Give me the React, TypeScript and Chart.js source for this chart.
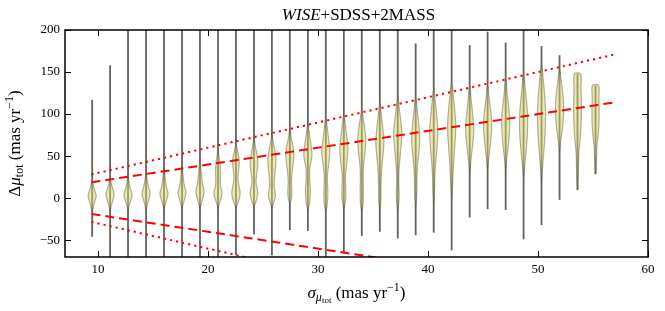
import React, { useEffect, useRef } from 'react';
import { Chart, registerables } from 'chart.js';

Chart.register(...registerables);

// ---- data ----
const positions = [
  9.47, 11.10, 12.73, 14.37, 16.00, 17.64, 19.27, 20.91, 22.54, 24.18,
  25.81, 27.44, 29.08, 30.71, 32.35, 33.98, 35.62, 37.25, 38.88, 40.52,
  42.15, 43.79, 45.42, 47.06, 48.69, 50.32, 51.96, 53.59, 55.23,
];
const whiskerMin = [
  -46, -90, -90, -90, -90, -90, -90, -90, -68, -43,
  -68, -38, -39, -90, -66, -45, -40, -48, -44, -41,
  -62, -23, -13, -14, -49, -32, -2, 9.5, 28.5,
];
const whiskerMax = [
  117, 158, 250, 250, 250, 250, 250, 250, 250, 250,
  250, 250, 250, 250, 250, 250, 250, 250, 184, 250,
  250, 182, 198, 185, 250, 181, 170, 147.6, 134,
];
// density profiles: [value, relative width]
const profiles: number[][][] = [
  [[-16, 0], [-10, 0.3], [-4, 0.65], [3, 1], [9, 0.65], [15, 0.3], [21, 0]],
  [[-15, 0], [-9, 0.3], [-2, 0.7], [5, 1], [11, 0.65], [17, 0.3], [24, 0]],
  [[-15, 0], [-9, 0.3], [-2, 0.7], [4, 1], [11, 0.6], [18, 0.3], [26, 0]],
  [[-14, 0], [-8, 0.3], [-1, 0.7], [6, 1], [13, 0.6], [21, 0.3], [30, 0]],
  [[-13, 0], [-7, 0.35], [0, 0.75], [6, 1], [13, 0.6], [21, 0.35], [28, 0.2], [36, 0]],
  [[-12, 0], [-6, 0.35], [1, 0.75], [7, 1], [14, 0.6], [22, 0.35], [30, 0.2], [38, 0]],
  [[-12, 0], [-6, 0.35], [2, 0.8], [9, 1], [17, 0.6], [24, 0.45], [32, 0.3], [42, 0]],
  [[-12, 0], [-6, 0.35], [1, 0.8], [6, 1], [14, 0.65], [22, 0.55], [32, 0.6], [42, 0.5], [50, 0.25], [58, 0]],
  [[-12, 0], [-6, 0.45], [2, 0.95], [8, 1], [16, 0.7], [25, 0.5], [35, 0.7], [45, 0.8], [55, 0.45], [64, 0]],
  [[-10, 0], [-4, 0.5], [4, 0.9], [10, 0.85], [19, 0.5], [30, 0.7], [41, 0.95], [50, 0.8], [60, 0.4], [71, 0]],
  [[-11, 0], [-5, 0.45], [2, 0.85], [8, 0.8], [14, 0.55], [25, 0.65], [37, 0.9], [46, 1], [56, 0.75], [65, 0.4], [74, 0]],
  [[-7, 0], [0, 0.4], [8, 0.5], [18, 0.4], [28, 0.5], [40, 0.8], [52, 1], [60, 0.85], [70, 0.4], [80, 0]],
  [[-14, 0], [-7, 0.4], [3, 0.55], [11, 0.6], [22, 0.45], [35, 0.45], [44, 0.8], [52, 1], [62, 0.8], [74, 0.45], [87, 0]],
  [[-16, 0], [-8, 0.35], [4, 0.5], [14, 0.45], [27, 0.4], [40, 0.7], [55, 1], [68, 0.75], [82, 0.4], [95, 0]],
  [[-12, 0], [-5, 0.35], [4, 0.5], [14, 0.45], [27, 0.4], [42, 0.75], [59, 1], [72, 0.75], [86, 0.4], [99, 0]],
  [[-16, 0], [-8, 0.3], [4, 0.4], [14, 0.4], [25, 0.35], [39, 0.45], [55, 0.8], [70, 1], [82, 0.75], [94, 0.4], [103, 0]],
  [[-12, 0], [-4, 0.25], [10, 0.3], [25, 0.35], [40, 0.55], [55, 0.85], [68, 1], [80, 0.8], [95, 0.45], [113, 0]],
  [[-14, 0], [-6, 0.25], [5, 0.35], [18, 0.25], [32, 0.3], [48, 0.55], [63, 0.85], [77, 1], [90, 0.8], [105, 0.4], [121, 0]],
  [[-10, 0], [5, 0.25], [22, 0.3], [38, 0.45], [55, 0.8], [72, 1], [86, 0.8], [102, 0.45], [119, 0]],
  [[-5, 0], [10, 0.2], [28, 0.3], [45, 0.55], [63, 0.85], [80, 1], [95, 0.8], [112, 0.45], [129, 0]],
  [[0, 0], [20, 0.25], [40, 0.45], [58, 0.7], [75, 0.95], [87, 1], [100, 0.85], [118, 0.5], [138, 0]],
  [[30, 0], [45, 0.3], [60, 0.65], [75, 0.95], [85, 1], [97, 0.8], [115, 0.4], [133, 0]],
  [[35, 0], [50, 0.35], [65, 0.7], [80, 0.95], [90, 1], [102, 0.8], [118, 0.4], [134, 0]],
  [[35, 0], [50, 0.35], [67, 0.75], [82, 0.95], [93, 1], [106, 0.8], [123, 0.4], [142, 0]],
  [[25, 0], [42, 0.35], [60, 0.7], [78, 0.95], [93, 1], [108, 0.85], [128, 0.45], [148, 0]],
  [[20, 0], [40, 0.3], [60, 0.65], [80, 0.9], [100, 1], [118, 0.85], [140, 0.45], [160, 0]],
  [[55, 0], [68, 0.3], [82, 0.7], [97, 0.95], [110, 1], [125, 0.8], [140, 0.4], [153, 0]],
  [[10, 0], [30, 0.2], [55, 0.35], [70, 0.65], [85, 0.85], [100, 0.95], [115, 0.95], [130, 0.85], [147.6, 0.75]],
  [[29, 0], [45, 0.2], [62, 0.35], [75, 0.65], [90, 0.85], [105, 0.88], [120, 0.82], [134, 0.75]],
];

const lineX = [9.4, 57];
const upperDashed = [18.8, 114];
const lowerDashed = [-18.8, -114];
const upperDotted = [28.2, 171];
const lowerDotted = [-28.2, -171];

const xTicks = [10, 20, 30, 40, 50, 60];
const yTicks = [-50, 0, 50, 100, 150, 200];

// ---- style ----
const HALF_W = 0.37;
const FONT = '"Liberation Serif", "Times New Roman", serif';

type Part = { t: string; size: number; italic?: boolean; dy?: number };

function drawRich(ctx: CanvasRenderingContext2D, parts: Part[], cx: number, cy: number, rot: number) {
  ctx.save();
  ctx.translate(cx, cy);
  ctx.rotate(rot);
  const fonts = parts.map((p) => `${p.italic ? 'italic ' : ''}${p.size}px ${FONT}`);
  let total = 0;
  parts.forEach((p, i) => {
    ctx.font = fonts[i];
    total += ctx.measureText(p.t).width;
  });
  let x = -total / 2;
  ctx.textAlign = 'left';
  ctx.textBaseline = 'alphabetic';
  ctx.fillStyle = '#000';
  parts.forEach((p, i) => {
    ctx.font = fonts[i];
    ctx.fillText(p.t, x, p.dy || 0);
    x += ctx.measureText(p.t).width;
  });
  ctx.restore();
}

const decor = {
  id: 'decor',
  afterDraw(chart: any) {
    const { ctx, chartArea: a, scales } = chart;
    const x = scales.x;
    const y = scales.y;
    ctx.save();
    ctx.strokeStyle = '#000';
    ctx.lineWidth = 1;
    const tl = 6;
    ctx.beginPath();
    for (const v of xTicks) {
      const px = Math.round(x.getPixelForValue(v)) + 0.5;
      ctx.moveTo(px, a.bottom);
      ctx.lineTo(px, a.bottom - tl);
      ctx.moveTo(px, a.top);
      ctx.lineTo(px, a.top + tl);
    }
    for (const v of yTicks) {
      const py = Math.round(y.getPixelForValue(v)) + 0.5;
      ctx.moveTo(a.left, py);
      ctx.lineTo(a.left + tl, py);
      ctx.moveTo(a.right, py);
      ctx.lineTo(a.right - tl, py);
    }
    ctx.stroke();
    ctx.lineWidth = 1.5;
    ctx.strokeRect(a.left, a.top, a.right - a.left, a.bottom - a.top);
    ctx.restore();

    const cx = (a.left + a.right) / 2;
    const cy = (a.top + a.bottom) / 2;
    drawRich(ctx, [
      { t: 'WISE', size: 17, italic: true },
      { t: '+SDSS+2MASS', size: 17 },
    ], cx + 2, 20, 0);
    drawRich(ctx, [
      { t: 'σ', size: 17, italic: true },
      { t: 'μ', size: 12, italic: true, dy: 3 },
      { t: 'tot', size: 9, dy: 5 },
      { t: ' (mas yr', size: 17 },
      { t: '−1', size: 12, dy: -7 },
      { t: ')', size: 17 },
    ], cx, 298, 0);
    drawRich(ctx, [
      { t: 'Δ', size: 17 },
      { t: 'μ', size: 17, italic: true },
      { t: 'tot', size: 12, dy: 3 },
      { t: ' (mas yr', size: 17 },
      { t: '−1', size: 12, dy: -7 },
      { t: ')', size: 17 },
    ], 20, cy, -Math.PI / 2);
  },
};

function buildDatasets() {
  const ds: any[] = [];
  const redLine = (ys: number[], dash: number[]) => ({
    data: [{ x: lineX[0], y: ys[0] }, { x: lineX[1], y: ys[1] }],
    showLine: true,
    borderColor: '#ff0000',
    borderWidth: 2,
    borderDash: dash,
    pointRadius: 0,
    fill: false,
  });
  ds.push(redLine(upperDashed, [9, 5]));
  ds.push(redLine(lowerDashed, [9, 5]));
  ds.push(redLine(upperDotted, [2.2, 4]));
  ds.push(redLine(lowerDotted, [2.2, 4]));

  profiles.forEach((prof, i) => {
    const pos = positions[i];
    const right = prof.map(([v, w]) => ({ x: pos + HALF_W * w, y: v }));
    const left = prof.slice().reverse().map(([v, w]) => ({ x: pos - HALF_W * w, y: v }));
    const topR = right[right.length - 1];
    if (left[0].x === topR.x && left[0].y === topR.y) left.shift();
    ds.push({
      data: [...right, ...left],
      showLine: true,
      fill: 'shape',
      backgroundColor: 'rgba(215, 212, 100, 0.5)',
      borderColor: 'rgba(70, 70, 50, 0.4)',
      borderWidth: 1.2,
      pointRadius: 0,
      tension: 0.35,
    });
  });

  positions.forEach((pos, i) => {
    ds.push({
      data: [{ x: pos, y: whiskerMin[i] }, { x: pos, y: whiskerMax[i] }],
      showLine: true,
      borderColor: 'rgba(60, 60, 50, 0.8)',
      borderWidth: 1.8,
      pointRadius: 0,
      fill: false,
    });
  });
  return ds;
}

export default function App() {
  const ref = useRef<HTMLCanvasElement | null>(null);
  useEffect(() => {
    if (!ref.current) return;
    const tickFont = { family: FONT, size: 13 };
    const chart = new Chart(ref.current, {
      type: 'scatter',
      data: { datasets: buildDatasets() },
      plugins: [decor],
      options: {
        animation: false,
        responsive: false,
        devicePixelRatio: 1,
        layout: { padding: { top: 30, right: 17, left: 0, bottom: 0 } },
        plugins: {
          legend: { display: false },
          tooltip: { enabled: false },
          title: { display: false },
        },
        scales: {
          x: {
            type: 'linear',
            min: 7,
            max: 60,
            grid: { display: false, drawTicks: false },
            border: { display: false },
            ticks: { padding: 5, font: tickFont, color: '#000', maxRotation: 0, autoSkip: false },
            afterBuildTicks: (s: any) => { s.ticks = xTicks.map((v) => ({ value: v })); },
            afterFit: (s: any) => { s.height = 54; },
          },
          y: {
            type: 'linear',
            min: -70,
            max: 200,
            grid: { display: false, drawTicks: false },
            border: { display: false },
            ticks: {
              padding: 5,
              font: tickFont,
              color: '#000',
              callback: (v: any) => (Number(v) < 0 ? '−' + Math.abs(Number(v)) : String(v)),
            },
            afterBuildTicks: (s: any) => { s.ticks = yTicks.map((v) => ({ value: v })); },
            afterFit: (s: any) => { s.width = 65; },
          },
        },
      } as any,
    });
    return () => chart.destroy();
  }, []);
  return (
    <div style={{ position: 'fixed', left: 0, top: 0, width: 665, height: 311, background: '#fff' }}>
      <canvas ref={ref} width={665} height={311} style={{ display: 'block' }} />
    </div>
  );
}
